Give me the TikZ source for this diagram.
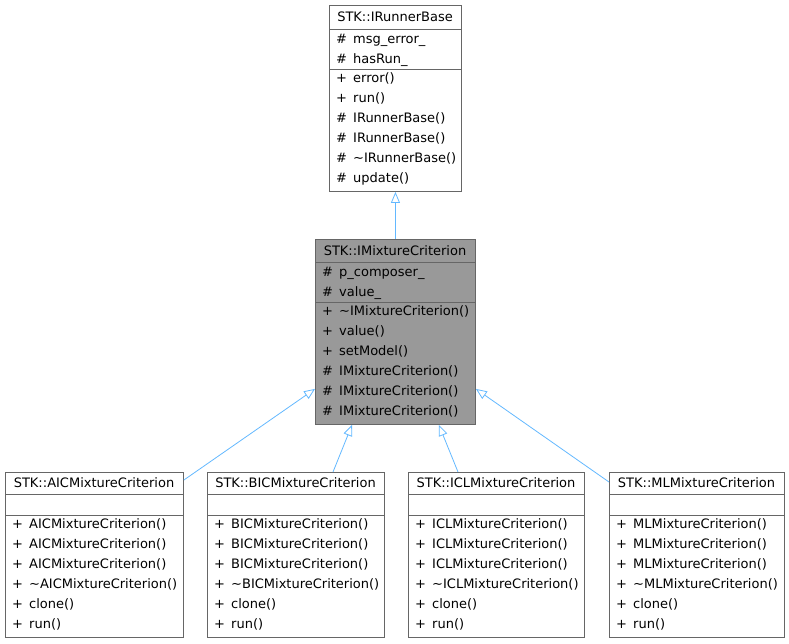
\documentclass[tikz,border=0pt]{standalone}
\usepackage{fontspec}
\setmainfont{DejaVu Sans}
\usetikzlibrary{arrows.meta}
\definecolor{edgeblue}{HTML}{63B8FF}
\definecolor{boxline}{HTML}{666666}
\definecolor{boxfill}{HTML}{999999}
\newcounter{umlrowc}
\newcommand\umlrow[4]{%
  \stepcounter{umlrowc}%
  \node[rowtxt] (rs\arabic{umlrowc}) at (#1+7,#2+4.5) {#3};
  \node[rowtxt] (rn\arabic{umlrowc}) at (#1+24,#2+4.5) {#4};}
\begin{document}
\begin{tikzpicture}[x=1pt,y=-1pt,
  umlbox/.style={draw=boxline, line width=0.9pt, fill=white, inner sep=0pt, anchor=north west},
  sepline/.style={draw=boxline, line width=0.9pt},
  rowtxt/.style={anchor=base west, inner sep=0pt, font=\fontsize{13}{15}\selectfont},
  titletxt/.style={anchor=base, inner sep=0pt, font=\fontsize{13}{15}\selectfont},
  inh/.style={draw=edgeblue, line width=0.8pt, {Triangle[open, length=11pt, width=9pt, line width=0.8pt]}-}
]
\useasboundingbox (0,0) rectangle (789,643);

% ---- top: IRunnerBase
\node[umlbox, minimum width=132pt, minimum height=186pt] (base) at (329,5) {};
\draw[sepline] (329,29) -- (461,29);
\draw[sepline] (329,69) -- (461,69);
\node[titletxt] (tbase) at (395,17+4.5) {STK::IRunnerBase};
\umlrow{329}{39}{\#}{msg\_error\_}
\umlrow{329}{59}{\#}{hasRun\_}
\umlrow{329}{78}{+}{error()}
\umlrow{329}{98}{+}{run()}
\umlrow{329}{118}{\#}{IRunnerBase()}
\umlrow{329}{138}{\#}{IRunnerBase()}
\umlrow{329}{158}{\#}{\textasciitilde IRunnerBase()}
\umlrow{329}{178}{\#}{update()}

% ---- middle: IMixtureCriterion
\node[umlbox, fill=boxfill, minimum width=160pt, minimum height=185pt] (mid) at (315,239) {};
\draw[sepline] (315,262) -- (475,262);
\draw[sepline] (315,302) -- (475,302);
\node[titletxt] (tmid) at (395,250.5+4.5) {STK::IMixtureCriterion};
\umlrow{315}{272}{\#}{p\_composer\_}
\umlrow{315}{292}{\#}{value\_}
\umlrow{315}{311}{+}{\textasciitilde IMixtureCriterion()}
\umlrow{315}{331}{+}{value()}
\umlrow{315}{351}{+}{setModel()}
\umlrow{315}{371}{\#}{IMixtureCriterion()}
\umlrow{315}{391}{\#}{IMixtureCriterion()}
\umlrow{315}{411}{\#}{IMixtureCriterion()}

% ---- bottom boxes
\newcommand\childbox[4]{% #1 name, #2 left, #3 width, #4 prefix
  \node[umlbox, minimum width=#3pt, minimum height=165pt] (#1) at (#2,472) {};
  \draw[sepline] (#2,494) -- (#2+#3,494);
  \draw[sepline] (#2,515) -- (#2+#3,515);
  \node[titletxt] (t#1) at (#2+#3/2,483+4.5) {STK::#4MixtureCriterion};
  \umlrow{#2}{524}{+}{#4MixtureCriterion()}
  \umlrow{#2}{544}{+}{#4MixtureCriterion()}
  \umlrow{#2}{564}{+}{#4MixtureCriterion()}
  \umlrow{#2}{584}{+}{\textasciitilde #4MixtureCriterion()}
  \umlrow{#2}{604}{+}{clone()}
  \umlrow{#2}{624}{+}{run()}
}
\childbox{aic}{5}{178}{AIC}
\childbox{bic}{207}{177}{BIC}
\childbox{icl}{408}{176}{ICL}
\childbox{mlm}{609}{175}{ML}

% ---- inheritance edges
\draw[inh] (base.south) -- (mid.north);
\draw[inh] ([yshift=36pt]mid.south west) -- ([yshift=-8pt]aic.north east);
\draw[inh] ([xshift=37pt]mid.south west) -- ([xshift=126pt]bic.north west);
\draw[inh] ([xshift=-37pt]mid.south east) -- ([xshift=50pt]icl.north west);
\draw[inh] ([yshift=36pt]mid.south east) -- ([yshift=-10pt]mlm.north west);
\end{tikzpicture}
\end{document}
